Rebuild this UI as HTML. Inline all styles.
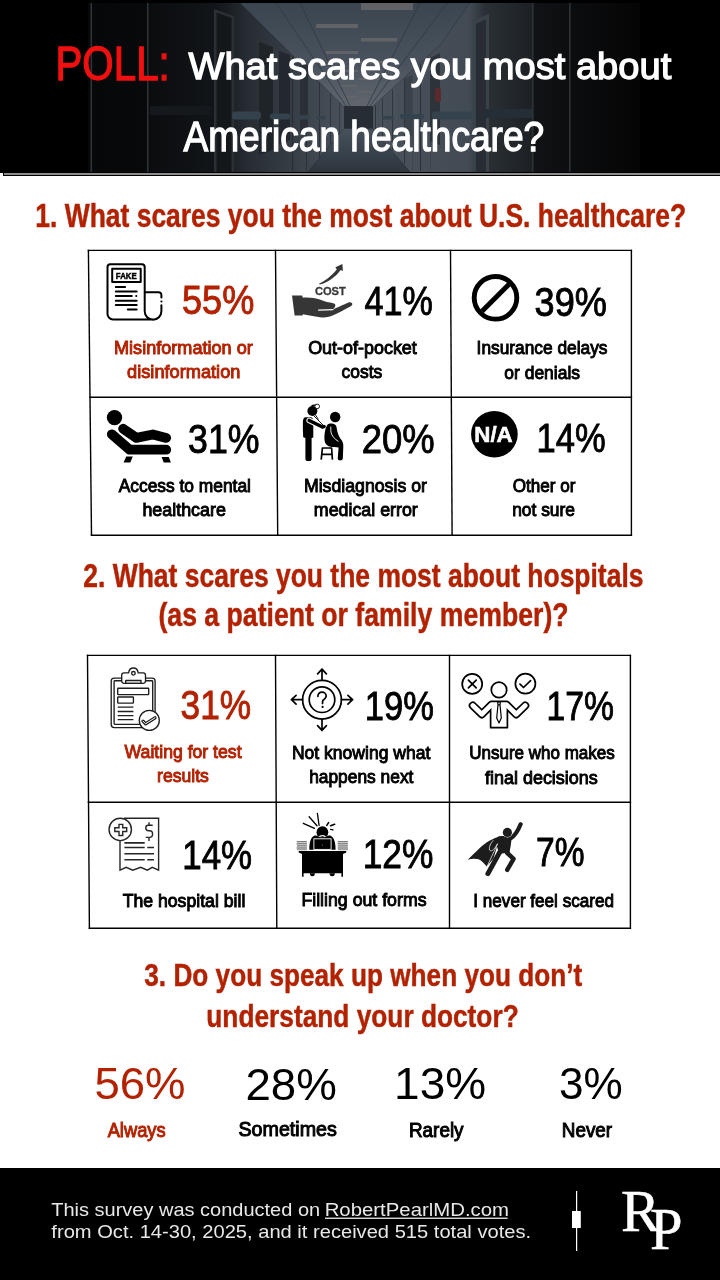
<!DOCTYPE html>
<html><head><meta charset="utf-8"><title>POLL: What scares you most about American healthcare?</title>
<style>html,body{margin:0;padding:0;background:#fff;width:720px;height:1280px;overflow:hidden}svg{display:block;will-change:transform}</style>
</head><body>
<svg width="720" height="1280" viewBox="0 0 720 1280">
<rect width="720" height="1280" fill="#fff"/>
<defs>
<linearGradient id="gLW" gradientUnits="userSpaceOnUse" x1="88" y1="0" x2="344" y2="0">
<stop offset="0" stop-color="#060708"/><stop offset="0.23" stop-color="#08090b"/><stop offset="0.25" stop-color="#0b0d0f"/><stop offset="0.5" stop-color="#121519"/><stop offset="0.62" stop-color="#262c32"/><stop offset="1" stop-color="#49525b"/>
</linearGradient>
<linearGradient id="gRW" gradientUnits="userSpaceOnUse" x1="373" y1="0" x2="533" y2="0">
<stop offset="0" stop-color="#4a535c"/><stop offset="0.6" stop-color="#424b54"/><stop offset="0.7" stop-color="#2a3035"/><stop offset="1" stop-color="#1c2024"/>
</linearGradient>
<linearGradient id="gC" gradientUnits="userSpaceOnUse" x1="0" y1="3" x2="0" y2="106">
<stop offset="0" stop-color="#3b4550"/><stop offset="0.6" stop-color="#4a535d"/><stop offset="1" stop-color="#5f666d"/>
</linearGradient>
<linearGradient id="gF" gradientUnits="userSpaceOnUse" x1="0" y1="127" x2="0" y2="172">
<stop offset="0" stop-color="#47525c"/><stop offset="0.5" stop-color="#3a444e"/><stop offset="1" stop-color="#2d353d"/>
</linearGradient>
<linearGradient id="gRD" gradientUnits="userSpaceOnUse" x1="533" y1="0" x2="640" y2="0">
<stop offset="0" stop-color="#111316"/><stop offset="0.4" stop-color="#0b0c0e"/><stop offset="1" stop-color="#050505"/>
</linearGradient>
</defs>
<rect x="0" y="0" width="720" height="173" fill="#000"/>
<g>
<polygon points="88,3 240,3 344,106.5 344,128.3 308,172 88,172" fill="url(#gLW)"/>
<polygon points="240,3 470,3 441,44 372.5,106.5 344,106.5" fill="url(#gC)"/>
<polygon points="470,3 533,3 533,172 410,172 372.5,128.3 372.5,106.5 441,44" fill="url(#gRW)"/>
<polygon points="344,128.3 372.5,128.3 410,172 308,172" fill="url(#gF)"/>
<rect x="344" y="106.5" width="28.5" height="21.8" fill="#262d34"/>
<rect x="533" y="3" width="107" height="169" fill="url(#gRD)"/>
<g fill="#67676a" opacity="0.85">
<rect x="361" y="3" width="52" height="7"/>
<rect x="316" y="24" width="42" height="4"/>
<rect x="361" y="38" width="36" height="3.5"/>
<rect x="326" y="51" width="32" height="3"/>
<rect x="360" y="61" width="26" height="2.5"/>
<rect x="334" y="70" width="24" height="2"/>
<rect x="359" y="78" width="20" height="2"/>
<rect x="340" y="85" width="18" height="1.6"/>
<rect x="358" y="91" width="15" height="1.5"/>
<rect x="344" y="96" width="13" height="1.4"/>
<rect x="357" y="100" width="12" height="1.2"/>
</g>
<g fill="#2e3338">
<rect x="90.5" y="3" width="1.6" height="169"/>
<rect x="147" y="3" width="1.6" height="169"/>
<rect x="569" y="3" width="1.6" height="169"/>
<rect x="532" y="3" width="1.6" height="169"/>
</g>
<!-- wall texture -->
<rect x="292" y="55.8" width="1" height="115.2" fill="#262c32"/>
<rect x="300" y="63.7" width="1" height="107.3" fill="#3a424a"/>
<rect x="306" y="69.7" width="1" height="101.3" fill="#2a3036"/>
<rect x="313" y="76.6" width="1" height="88.3" fill="#3e464e"/>
<rect x="319" y="82.6" width="1" height="75.0" fill="#2c3238"/>
<rect x="325" y="88.6" width="1" height="61.8" fill="#434b53"/>
<rect x="330" y="93.6" width="1" height="50.7" fill="#30363c"/>
<rect x="335" y="98.5" width="1" height="39.7" fill="#464e56"/>
<rect x="339" y="102.5" width="1" height="30.8" fill="#343a40"/>
<rect x="342" y="105.5" width="1" height="24.2" fill="#4a525a"/>
<rect x="375" y="105.2" width="1" height="25.0" fill="#2e353b"/>
<rect x="378" y="102.5" width="1" height="31.2" fill="#434b53"/>
<rect x="382" y="98.8" width="1" height="39.5" fill="#30373d"/>
<rect x="387" y="94.3" width="1" height="49.9" fill="#454d55"/>
<rect x="392" y="89.7" width="1" height="60.3" fill="#2e353b"/>
<rect x="398" y="84.2" width="1" height="72.8" fill="#444c54"/>
<rect x="404" y="78.8" width="1" height="85.2" fill="#2c3339"/>
<rect x="412" y="71.5" width="1" height="99.5" fill="#3e464e"/>
<rect x="420" y="64.2" width="1" height="106.8" fill="#2a3036"/>
<rect x="430" y="55.0" width="1" height="116.0" fill="#3a424a"/>
<path d="M300,3 L350,106 M420,3 L367,106 M276,3 L346,106 M447,3 L370,106" stroke="#2f3841" stroke-width="0.8" fill="none"/>
<!-- left doors -->
<polygon points="214,9 234,16 234,172 214,172" fill="#2a3036"/>
<polygon points="216.5,12.5 231.5,18 231.5,172 216.5,172" fill="#15181b"/>
<polygon points="259,42 273,47 273,150 259,155" fill="#1f2428"/>
<polygon points="279,51 290,55 290,140 279,144" fill="#22282d"/>
<polygon points="300,62 308,65 308,132 300,135" fill="#2a3035"/>
<!-- right doors -->
<polygon points="473,20 489,14 489,172 473,172" fill="#3a4249"/>
<polygon points="476,24 486,19 486,172 476,172" fill="#272d32"/>
<polygon points="430,58 440,53 440,145 430,141" fill="#2d3439"/>
<polygon points="405,78 412,75 412,136 405,134" fill="#3a4249"/>
<!-- handrails -->
<g fill="#34424e">
<rect x="232" y="111.5" width="29" height="8" rx="3"/>
<rect x="270" y="113.5" width="20" height="6" rx="2.5"/>
<rect x="296" y="115" width="14" height="4.5" rx="2"/>
<rect x="316" y="116" width="10" height="3.5" rx="1.5"/>
<rect x="432" y="111.5" width="40" height="8" rx="3"/>
<rect x="400" y="114" width="24" height="5" rx="2"/>
<rect x="382" y="116" width="12" height="3.5" rx="1.5"/>
</g>
<rect x="150" y="106" width="62" height="9" fill="#15191d"/>
<rect x="482" y="109" width="50" height="9" fill="#252e36"/>
<rect x="435" y="88" width="6" height="14" rx="2" fill="#5a2a2c"/>

</g>

<!-- header bottom bar -->
<rect x="3" y="172" width="717" height="4" fill="#000"/>
<rect x="4" y="173" width="716" height="2" fill="#8c8c8c"/>
<!-- grid 1 -->
<g stroke="#000" stroke-width="1.4" fill="none" stroke-linecap="square">
<line x1="88.4" y1="250.4" x2="631.4" y2="250.4"/>
<line x1="90" y1="397.3" x2="631.4" y2="397.3"/>
<line x1="91.5" y1="535.2" x2="631.4" y2="535.2"/>
<line x1="88.4" y1="250.4" x2="91.5" y2="535.2"/>
<line x1="275.5" y1="250.4" x2="277.7" y2="535.2"/>
<line x1="450.5" y1="250.4" x2="452.1" y2="535.2"/>
<line x1="631.4" y1="250.4" x2="631.4" y2="535.2"/>
</g>
<!-- grid 2 -->
<g stroke="#000" stroke-width="1.4" fill="none" stroke-linecap="square">
<line x1="87.5" y1="655.4" x2="630.4" y2="655.4"/>
<line x1="88.4" y1="802.3" x2="630.4" y2="802.3"/>
<line x1="89.4" y1="928.2" x2="630.4" y2="928.2"/>
<line x1="87.5" y1="655.4" x2="89.4" y2="928.2"/>
<line x1="275.5" y1="655.4" x2="276.8" y2="928.2"/>
<line x1="449.5" y1="655.4" x2="449.5" y2="928.2"/>
<line x1="630.4" y1="655.4" x2="630.4" y2="928.2"/>
</g>
<!-- footer -->
<rect x="0" y="1168" width="720" height="112" fill="#000"/>
<rect x="325" y="1217.6" width="182.6" height="1.3" fill="#e8e8e8"/>
<rect x="576" y="1191" width="1.2" height="60" fill="#fff"/>
<rect x="572" y="1211" width="8.8" height="17" fill="#fff"/>
<!-- icon: fake news -->
<g fill="none" stroke="#000" stroke-width="2" stroke-linecap="round" stroke-linejoin="round">
<path d="M153,319.4 H113 A5.5,5.5 0 0 1 107.5,313.9 V267 A2.8,2.8 0 0 1 110.3,264.2 H141.9 A2.8,2.8 0 0 1 144.7,267 V311.3 A8.3,8.3 0 0 0 161.4,311.3 V305.3 M161.4,297.6 V295 A2.8,2.8 0 0 0 158.6,292.2 H144.7"/>
<rect x="112.2" y="268.7" width="28.5" height="13.3"/>
<path d="M115.8,286.9 H125.1 M115.8,291.6 H136.7 M115.8,296 H131.8 M136.2,296 H136.3 M115.8,300.7 H136.7 M115.8,304.9 H136.7 M127.8,309.6 H136.7 M161.4,301.4 H161.5"/>
</g>
<text x="126.3" y="278.6" text-anchor="middle" textLength="20.9" lengthAdjust="spacingAndGlyphs" style="font-family:&quot;Liberation Sans&quot;,sans-serif;font-weight:700;font-size:8.8px" fill="#000" stroke="#000" stroke-width="0.45">FAKE</text>

<!-- icon: hospital bill -->
<g fill="none" stroke="#262626" stroke-width="1.4" stroke-linejoin="miter">
<path d="M124,818.3 H158.6 V870.2 L152.3,867.3 L147.3,870.2 L140.7,867.3 L132.75,870.2 L126.1,867.3 L120,870.2 V840.7"/>
<circle cx="120.25" cy="829.4" r="11.2"/>
<path d="M119,824.4 H122.75 V827.75 H126.7 V831.5 H122.75 V835.5 H119 V831.5 H114.8 V827.75 H119 Z"/>
<path d="M149,822.3 V824.7 M149,838 V841 M152.7,825.3 H148.2 C146.6,825.3 145.8,826.4 145.8,828 C145.8,829.8 146.8,830.7 148.6,830.7 H149.6 C151.6,830.7 152.6,831.8 152.6,833.8 C152.6,835.8 151.5,837.4 149.5,837.4 H145.7"/>
</g>
<path d="M124.4,842.9 H144.7 M124.4,847.5 H144.7 M147.3,847.5 H154 M124.4,853.75 H154 M124.4,859.8 H144.7 M147.3,859.8 H154" stroke="#262626" stroke-width="1.6" fill="none"/>

<!-- icon: filling forms desk -->
<g fill="#000">
<!-- stress lines -->
<path d="M303.3,823.3 L314.5,828.3 M309.1,816.7 L317,825.8 M317.4,813.3 L319.1,825.4" stroke="#000" stroke-width="1.3" fill="none" stroke-linecap="round"/>
<path d="M326.8,825.4 L328.6,822.6" stroke="#000" stroke-width="1.6" stroke-linecap="round"/>
<path d="M330.6,825.7 L334.6,824.3" stroke="#000" stroke-width="1.7" stroke-linecap="round"/>
<path d="M330.6,829.4 L333,829.9" stroke="#000" stroke-width="1.3" stroke-linecap="round"/>
<!-- head -->
<circle cx="322.4" cy="832.2" r="5.9"/>
<path d="M319.2,837 C320.5,835.2 324.3,835.2 325.6,837" stroke="#fff" stroke-width="1.3" fill="none"/>
<!-- body -->
<path d="M309.3,849.2 C309.3,843 310.5,837.5 314.5,835.6 C316.5,834.9 318.8,836.4 322.4,838.5 C326,836.4 328.2,834.9 330.3,835.6 C334.3,837.5 335.6,843 335.6,849.2 C335.6,850 334.8,849.8 333.8,849.8 L311,849.8 C310,849.8 309.3,850 309.3,849.2 Z"/>
<!-- laptop -->
<rect x="313.9" y="838.8" width="17.2" height="10.6" fill="#000" stroke="#fff" stroke-width="0.9"/>
<circle cx="322.4" cy="845" r="0.6" fill="#888"/>
<!-- desk -->
<path d="M298.7,850.9 H346.2 V852.6 L343,854 V876.7 H341.4 V873.3 H303.6 V876.7 H302 V854 L298.7,852.6 Z"/>
<path d="M309.9,873.3 A2.5,3 0 0 0 314.9,873.3 Z M329.5,873.3 A2.7,3 0 0 0 334.9,873.3 Z"/>
</g>
<g fill="#7a7a7a">
<rect x="296.8" y="841" width="10" height="1.4"/>
<rect x="296.6" y="843.1" width="10.3" height="1.4"/>
<rect x="296.9" y="845.2" width="10" height="1.4"/>
<rect x="296.6" y="847.3" width="10.3" height="1.4"/>
<rect x="297" y="849.3" width="10" height="0.9"/>
<rect x="337.8" y="841" width="10" height="1.4"/>
<rect x="337.6" y="843.1" width="10.3" height="1.4"/>
<rect x="337.9" y="845.2" width="10" height="1.4"/>
<rect x="337.6" y="847.3" width="10.3" height="1.4"/>
<rect x="338" y="849.3" width="10" height="0.9"/>
</g>

<!-- icon: superhero -->
<g fill="#1c1c1c" stroke-linecap="round" stroke-linejoin="round">
<path d="M499.8,836.6 C494,838 486,842 479.5,848.3 C474.5,853 470.5,857 467.7,859.8 C471,858.6 475,858.2 478.5,859.2 C482,860.5 484.5,864 486.7,866.4 L493.5,858.6 Z"/>
<path d="M498.5,836.4 C502,835.6 507,835.8 511,837.4 C512,840 510.6,846 509.6,852.6 L499.8,853.8 C497.8,850 496.2,845 496.3,840.5 C496.5,838 497,836.8 498.5,836.4 Z"/>
<path d="M499.6,852.4 L487.9,873.6" stroke="#1c1c1c" stroke-width="5" fill="none"/>
<path d="M507.2,853 L513.6,858.8 L507.2,869.9" stroke="#1c1c1c" stroke-width="4.4" fill="none"/>
<path d="M510.4,838.6 C514.4,836 518.2,830.5 520.6,824.3" stroke="#1c1c1c" stroke-width="4.2" fill="none"/>
<circle cx="507.4" cy="832.4" r="5.1" fill="#fff"/>
<circle cx="507.4" cy="832.4" r="4.6"/>
</g>
<path d="M493.4,840.2 C490.8,843 488.6,847.2 489.6,850.2 C491,852 494,849.6 495.6,846.8 L497.7,843.6" stroke="#fff" stroke-width="0.7" fill="none"/>
<path d="M497.6,843.8 L487.2,866.2" stroke="#fff" stroke-width="0.7" fill="none"/>

<!-- icon: cost hand -->
<g fill="#363636">
<path d="M292,295.4 L302.3,295.4 L302.6,297.6 C308,297.6 313,297.8 317,298.8 C321,299.8 324,301.6 328,302.2 C331,302.5 334.2,302.8 335.2,304.6 C335.8,306 334.8,307.6 333.5,308.6 L333.5,309.2 C337,308 344,304.5 348.5,302.6 C350.5,301.8 352.2,302.6 352.3,304 C352.4,305.2 351.4,305.9 350.3,306.5 C344,309.8 338,313.4 332,315.8 C328,317.4 324,317.7 320,317.2 C314,316.3 308,315.2 302.8,314.2 L302.6,315.4 L294.6,315.4 Z"/>
<path d="M319.2,283.6 C325,280.6 331,276.5 336.8,269.4 L335.4,267.2 L342.4,263.9 L342.9,271.1 L340.6,269.9 C335,277.6 328,282 319.6,284.6 Z"/>
</g>
<path d="M318.6,310.1 L333,309.6" stroke="#fff" stroke-width="1.3" fill="none" stroke-linecap="round"/>
<text x="330.35" y="295" text-anchor="middle" textLength="30.9" lengthAdjust="spacingAndGlyphs" style="font-family:&quot;Liberation Sans&quot;,sans-serif;font-weight:700;font-size:11px" fill="#3a3a3a" stroke="#3a3a3a" stroke-width="0.3">COST</text>

<!-- icon: prohibited -->
<g fill="none" stroke="#000" stroke-width="4.9">
<circle cx="495.5" cy="297.8" r="21.3"/>
<line x1="482" y1="311.3" x2="509" y2="284.3"/>
</g>

<!-- icon: therapy couch -->
<g fill="none" stroke-linecap="round" stroke-linejoin="round">
<path d="M111.8,434.3 L129.7,449.7 L166.2,449.7" stroke="#000" stroke-width="9.8"/>
<path d="M123.1,428.7 L136.4,437.9 L152.9,434.5 L166.2,437.9" stroke="#fff" stroke-width="12.6"/>
<path d="M123.1,428.7 L136.4,437.9 L152.9,434.5 L166.2,437.9" stroke="#000" stroke-width="9.8"/>
</g>
<circle cx="114.5" cy="417.6" r="7.7" fill="#000"/>
<polygon points="126.2,456.4 132.8,456.4 130.3,462.4 123.6,462.4" fill="#000"/>
<polygon points="161.6,456.9 168.8,456.9 170.9,462.4 163.7,462.4" fill="#000"/>

<!-- icon: doctor & patient -->
<g fill="#000">
<!-- doctor head -->
<circle cx="312.4" cy="411" r="5"/>
<path d="M311.5,405.6 L316,404.8" stroke="#000" stroke-width="1.2"/>
<circle cx="317.2" cy="406.4" r="2.3" fill="#fff" stroke="#000" stroke-width="0.9"/>
<!-- doctor body -->
<path d="M305.8,417.2 L310.4,417.2 C312.6,417.2 313.3,419 313.3,421 L313.3,437.5 L311.6,438 L311.6,459 C311.6,461.2 309.9,461 308.4,461 C306.6,461 305.4,460.8 305.4,459 L305.4,438 L303.2,437.2 C302.9,432 302.8,427 302.9,422 C303,419 303.8,417.2 305.8,417.2 Z"/>
<!-- doctor arm -->
<path d="M309.2,420.5 L322.5,427" stroke="#fff" stroke-width="5.6" stroke-linecap="round" fill="none"/>
<path d="M309.2,420.5 L322.5,427" stroke="#000" stroke-width="3.6" stroke-linecap="round" fill="none"/>
<circle cx="324" cy="426.6" r="1.8"/>
<!-- stethoscope -->
<path d="M313.5,415.5 L323.6,425.6 M315.5,415 L318.5,419.5" stroke="#000" stroke-width="0.9" fill="none"/>
<!-- patient head -->
<circle cx="335.2" cy="417" r="5.2"/>
<!-- patient body -->
<path d="M330,423.6 C333.5,423.2 336.4,424.2 336.6,427.5 C337,431 338.2,435.2 340.3,438.5 C342.5,441 343.5,443.2 343.3,446.5 L342.8,458.5 C342.6,460.4 340.6,460.6 339.3,460.3 C337.8,460 337.6,458.8 337.8,457.5 L338.6,447.4 C336,447.2 332,447.2 329.5,446.4 C326,445.5 324.4,442.5 324.4,438 C324.4,433 325.5,427.5 327,425.4 C327.8,424.3 328.8,423.7 330,423.6 Z"/>
<path d="M330.8,427 L330.9,432 C331.8,436 334.4,439 338.2,441.2" stroke="#fff" stroke-width="0.9" fill="none" stroke-linecap="round"/>
<!-- stool -->
<path d="M321.8,448 L332.2,448 M322.4,448 L321.2,459.6 M331.6,448 L332.4,459.6 M321.9,454.3 L331.9,454.3" stroke="#000" stroke-width="1.7" fill="none"/>
</g>

<!-- icon: N/A -->
<circle cx="494.4" cy="434.2" r="23.3" fill="#000"/>
<text x="474.3" y="441.8" textLength="38.4" lengthAdjust="spacingAndGlyphs" style="font-family:&quot;Liberation Sans&quot;,sans-serif;font-weight:700;font-size:22.2px" fill="#fff" stroke="#fff" stroke-width="0.6">N/A</text>

<!-- icon: clipboard -->
<g fill="none" stroke="#1e1e1e" stroke-width="1.35" stroke-linejoin="round">
<rect x="111.2" y="678.1" width="43.9" height="49.5" rx="3"/>
<rect x="114.1" y="680.7" width="38.6" height="43.7" rx="0.8"/>
<path d="M124,672.9 H128.6 C129,670 131,668 133.4,668 C135.8,668 137.8,670 138.2,672.9 H143.2 A2.3,2.3 0 0 1 145.5,675.2 V681 A2.3,2.3 0 0 1 143.2,683.3 H124 A2.3,2.3 0 0 1 121.7,681 V675.2 A2.3,2.3 0 0 1 124,672.9 Z" fill="#fff"/>
<circle cx="133.4" cy="673.3" r="1.8"/>
<rect x="125.7" y="680.5" width="15.3" height="2.8"/>
<rect x="117.7" y="688.2" width="31" height="6.4" rx="0.6"/>
<rect x="117.7" y="697" width="15.7" height="6.1" rx="0.6"/>
<path d="M117.7,707.1 H133.4 M117.7,711.5 H133.4 M117.7,715.6 H133.4 M117.7,719.6 H133.4"/>
<circle cx="149.3" cy="720.4" r="10" fill="#fff"/>
</g>
<path d="M143,721.2 L145.6,723.8 L155,717.8" fill="none" stroke="#1e1e1e" stroke-width="3.3" stroke-linecap="round" stroke-linejoin="round"/>
<path d="M143,721.2 L145.6,723.8 L155,717.8" fill="none" stroke="#fff" stroke-width="1" stroke-linecap="round" stroke-linejoin="round"/>

<!-- icon: unknown direction -->
<g fill="none" stroke="#000" stroke-width="1.7" stroke-linecap="round" stroke-linejoin="round">
<circle cx="322" cy="699.7" r="19.4"/>
<circle cx="322" cy="699.7" r="12.8"/>
<path d="M322,680.3 V669.2 M317.6,673.9 L322,669.2 L326.4,673.9"/>
<path d="M322,719.1 V730.4 M317.6,725.6 L322,730.4 L326.4,725.6"/>
<path d="M302.6,699.7 H291.4 M296.1,695.3 L291.4,699.7 L296.1,704.1"/>
<path d="M341.4,699.7 H352.6 M347.9,695.3 L352.6,699.7 L347.9,704.1"/>
<path d="M317.9,696.4 C317.7,693.8 319.6,692.2 322,692.2 C324.5,692.2 326.2,694 326.2,696.1 C326.2,698.5 323.8,699.2 322.8,700.6 C322.5,701.2 322.5,702.3 322.5,703.4"/>
</g>
<circle cx="322.6" cy="706.9" r="1.1" fill="#000"/>

<!-- icon: unsure decisions -->
<g fill="none" stroke="#000" stroke-width="1.7" stroke-linecap="round" stroke-linejoin="round">
<circle cx="472.2" cy="683.9" r="10"/>
<path d="M468.4,680.1 L476.2,687.9 M476.2,680.1 L468.4,687.9"/>
<circle cx="525.4" cy="683.7" r="10"/>
<path d="M520,684.2 L523.5,687.5 L530.6,680.6"/>
<circle cx="499" cy="689.9" r="7.7"/>
</g>
<path d="M472.8,705.6 L481.8,714.3 L491.5,704.6 L506.5,704.6 L516.2,714.3 L525.2,705.6" fill="none" stroke="#000" stroke-width="8.2" stroke-linecap="round" stroke-linejoin="round"/>
<path d="M472.8,705.6 L481.8,714.3 L491.5,704.6 L506.5,704.6 L516.2,714.3 L525.2,705.6" fill="none" stroke="#fff" stroke-width="4.8" stroke-linecap="round" stroke-linejoin="round"/>
<rect x="491.4" y="703.2" width="15.2" height="23.8" fill="#fff"/>
<path d="M490.6,710.5 V727.6 H507.4 V710.5" fill="none" stroke="#000" stroke-width="1.7" stroke-linejoin="round"/>
<path d="M497.6,701.8 L500.4,701.8 L500,704.8 L501.3,718 L499,723 L496.7,718 L498,704.8 Z M498,704.8 H500" fill="none" stroke="#000" stroke-width="1.2" stroke-linejoin="round"/>

<text x="55.43" y="79.50" textLength="114.39" lengthAdjust="spacingAndGlyphs" style="font-family:&quot;Liberation Sans&quot;, Arial, sans-serif;font-weight:400;font-size:47.82px;" fill="#f01010" stroke="#f01010" stroke-width="1.3">POLL:</text>
<text x="188.49" y="79.20" textLength="482.74" lengthAdjust="spacingAndGlyphs" style="font-family:&quot;Liberation Sans&quot;, Arial, sans-serif;font-weight:400;font-size:37.43px;" fill="#ffffff" stroke="#ffffff" stroke-width="1.3">What scares you most about</text>
<text x="183.41" y="150.50" textLength="360.80" lengthAdjust="spacingAndGlyphs" style="font-family:&quot;Liberation Sans&quot;, Arial, sans-serif;font-weight:400;font-size:42.24px;" fill="#ffffff" stroke="#ffffff" stroke-width="1.3">American healthcare?</text>
<text x="35.37" y="226.70" textLength="650.83" lengthAdjust="spacingAndGlyphs" style="font-family:&quot;Liberation Sans&quot;, Arial, sans-serif;font-weight:700;font-size:32.76px;" fill="#b32200" stroke="#b32200" stroke-width="0.45">1. What scares you the most about U.S. healthcare?</text>
<text x="83.32" y="586.60" textLength="560.16" lengthAdjust="spacingAndGlyphs" style="font-family:&quot;Liberation Sans&quot;, Arial, sans-serif;font-weight:700;font-size:32.87px;" fill="#b32200" stroke="#b32200" stroke-width="0.45">2. What scares you the most about hospitals</text>
<text x="158.46" y="626.30" textLength="410.08" lengthAdjust="spacingAndGlyphs" style="font-family:&quot;Liberation Sans&quot;, Arial, sans-serif;font-weight:700;font-size:32.87px;" fill="#b32200" stroke="#b32200" stroke-width="0.45">(as a patient or family member)?</text>
<text x="144.29" y="986.10" textLength="437.95" lengthAdjust="spacingAndGlyphs" style="font-family:&quot;Liberation Sans&quot;, Arial, sans-serif;font-weight:700;font-size:31.89px;" fill="#b32200" stroke="#b32200" stroke-width="0.45">3. Do you speak up when you don’t</text>
<text x="206.32" y="1026.70" textLength="312.37" lengthAdjust="spacingAndGlyphs" style="font-family:&quot;Liberation Sans&quot;, Arial, sans-serif;font-weight:700;font-size:31.89px;" fill="#b32200" stroke="#b32200" stroke-width="0.45">understand your doctor?</text>
<text x="182.02" y="313.90" textLength="72.23" lengthAdjust="spacingAndGlyphs" style="font-family:&quot;Liberation Sans&quot;, Arial, sans-serif;font-weight:400;font-size:39.91px;" fill="#b32200" stroke="#b32200" stroke-width="0.9">55%</text>
<text x="364.56" y="315.00" textLength="68.27" lengthAdjust="spacingAndGlyphs" style="font-family:&quot;Liberation Sans&quot;, Arial, sans-serif;font-weight:400;font-size:39.91px;" fill="#000" stroke="#000" stroke-width="0.9">41%</text>
<text x="534.58" y="315.70" textLength="72.27" lengthAdjust="spacingAndGlyphs" style="font-family:&quot;Liberation Sans&quot;, Arial, sans-serif;font-weight:400;font-size:39.91px;" fill="#000" stroke="#000" stroke-width="0.9">39%</text>
<text x="188.10" y="452.50" textLength="71.42" lengthAdjust="spacingAndGlyphs" style="font-family:&quot;Liberation Sans&quot;, Arial, sans-serif;font-weight:400;font-size:39.91px;" fill="#000" stroke="#000" stroke-width="0.9">31%</text>
<text x="361.63" y="452.50" textLength="72.89" lengthAdjust="spacingAndGlyphs" style="font-family:&quot;Liberation Sans&quot;, Arial, sans-serif;font-weight:400;font-size:39.91px;" fill="#000" stroke="#000" stroke-width="0.9">20%</text>
<text x="536.51" y="451.70" textLength="69.08" lengthAdjust="spacingAndGlyphs" style="font-family:&quot;Liberation Sans&quot;, Arial, sans-serif;font-weight:400;font-size:39.91px;" fill="#000" stroke="#000" stroke-width="0.9">14%</text>
<text x="114.03" y="353.90" textLength="138.78" lengthAdjust="spacingAndGlyphs" style="font-family:&quot;Liberation Sans&quot;, Arial, sans-serif;font-weight:400;font-size:18.69px;" fill="#b32200" stroke="#b32200" stroke-width="0.95">Misinformation or</text>
<text x="127.10" y="377.80" textLength="113.33" lengthAdjust="spacingAndGlyphs" style="font-family:&quot;Liberation Sans&quot;, Arial, sans-serif;font-weight:400;font-size:18.69px;" fill="#b32200" stroke="#b32200" stroke-width="0.95">disinformation</text>
<text x="308.17" y="354.30" textLength="108.68" lengthAdjust="spacingAndGlyphs" style="font-family:&quot;Liberation Sans&quot;, Arial, sans-serif;font-weight:400;font-size:18.69px;" fill="#000" stroke="#000" stroke-width="0.95">Out-of-pocket</text>
<text x="341.57" y="377.50" textLength="40.65" lengthAdjust="spacingAndGlyphs" style="font-family:&quot;Liberation Sans&quot;, Arial, sans-serif;font-weight:400;font-size:18.69px;" fill="#000" stroke="#000" stroke-width="0.95">costs</text>
<text x="476.59" y="354.20" textLength="130.95" lengthAdjust="spacingAndGlyphs" style="font-family:&quot;Liberation Sans&quot;, Arial, sans-serif;font-weight:400;font-size:18.69px;" fill="#000" stroke="#000" stroke-width="0.95">Insurance delays</text>
<text x="504.36" y="378.60" textLength="75.64" lengthAdjust="spacingAndGlyphs" style="font-family:&quot;Liberation Sans&quot;, Arial, sans-serif;font-weight:400;font-size:18.69px;" fill="#000" stroke="#000" stroke-width="0.95">or denials</text>
<text x="118.73" y="492.00" textLength="132.25" lengthAdjust="spacingAndGlyphs" style="font-family:&quot;Liberation Sans&quot;, Arial, sans-serif;font-weight:400;font-size:18.69px;" fill="#000" stroke="#000" stroke-width="0.95">Access to mental</text>
<text x="142.42" y="516.40" textLength="83.42" lengthAdjust="spacingAndGlyphs" style="font-family:&quot;Liberation Sans&quot;, Arial, sans-serif;font-weight:400;font-size:18.69px;" fill="#000" stroke="#000" stroke-width="0.95">healthcare</text>
<text x="303.90" y="491.80" textLength="123.01" lengthAdjust="spacingAndGlyphs" style="font-family:&quot;Liberation Sans&quot;, Arial, sans-serif;font-weight:400;font-size:18.69px;" fill="#000" stroke="#000" stroke-width="0.95">Misdiagnosis or</text>
<text x="313.87" y="515.80" textLength="103.92" lengthAdjust="spacingAndGlyphs" style="font-family:&quot;Liberation Sans&quot;, Arial, sans-serif;font-weight:400;font-size:18.69px;" fill="#000" stroke="#000" stroke-width="0.95">medical error</text>
<text x="512.71" y="491.50" textLength="62.63" lengthAdjust="spacingAndGlyphs" style="font-family:&quot;Liberation Sans&quot;, Arial, sans-serif;font-weight:400;font-size:18.69px;" fill="#000" stroke="#000" stroke-width="0.95">Other or</text>
<text x="512.15" y="516.40" textLength="62.83" lengthAdjust="spacingAndGlyphs" style="font-family:&quot;Liberation Sans&quot;, Arial, sans-serif;font-weight:400;font-size:18.69px;" fill="#000" stroke="#000" stroke-width="0.95">not sure</text>
<text x="180.54" y="718.90" textLength="70.52" lengthAdjust="spacingAndGlyphs" style="font-family:&quot;Liberation Sans&quot;, Arial, sans-serif;font-weight:400;font-size:39.91px;" fill="#b32200" stroke="#b32200" stroke-width="0.9">31%</text>
<text x="364.75" y="719.50" textLength="69.11" lengthAdjust="spacingAndGlyphs" style="font-family:&quot;Liberation Sans&quot;, Arial, sans-serif;font-weight:400;font-size:39.91px;" fill="#000" stroke="#000" stroke-width="0.9">19%</text>
<text x="546.49" y="719.90" textLength="67.46" lengthAdjust="spacingAndGlyphs" style="font-family:&quot;Liberation Sans&quot;, Arial, sans-serif;font-weight:400;font-size:39.91px;" fill="#000" stroke="#000" stroke-width="0.9">17%</text>
<text x="182.26" y="868.60" textLength="69.84" lengthAdjust="spacingAndGlyphs" style="font-family:&quot;Liberation Sans&quot;, Arial, sans-serif;font-weight:400;font-size:39.91px;" fill="#000" stroke="#000" stroke-width="0.9">14%</text>
<text x="362.71" y="868.00" textLength="70.64" lengthAdjust="spacingAndGlyphs" style="font-family:&quot;Liberation Sans&quot;, Arial, sans-serif;font-weight:400;font-size:39.91px;" fill="#000" stroke="#000" stroke-width="0.9">12%</text>
<text x="536.11" y="865.70" textLength="48.43" lengthAdjust="spacingAndGlyphs" style="font-family:&quot;Liberation Sans&quot;, Arial, sans-serif;font-weight:400;font-size:39.91px;" fill="#000" stroke="#000" stroke-width="0.9">7%</text>
<text x="124.61" y="758.30" textLength="116.93" lengthAdjust="spacingAndGlyphs" style="font-family:&quot;Liberation Sans&quot;, Arial, sans-serif;font-weight:400;font-size:18.69px;" fill="#b32200" stroke="#b32200" stroke-width="0.95">Waiting for test</text>
<text x="157.11" y="782.00" textLength="51.79" lengthAdjust="spacingAndGlyphs" style="font-family:&quot;Liberation Sans&quot;, Arial, sans-serif;font-weight:400;font-size:18.69px;" fill="#b32200" stroke="#b32200" stroke-width="0.95">results</text>
<text x="291.91" y="758.80" textLength="138.41" lengthAdjust="spacingAndGlyphs" style="font-family:&quot;Liberation Sans&quot;, Arial, sans-serif;font-weight:400;font-size:18.69px;" fill="#000" stroke="#000" stroke-width="0.95">Not knowing what</text>
<text x="309.13" y="782.50" textLength="104.28" lengthAdjust="spacingAndGlyphs" style="font-family:&quot;Liberation Sans&quot;, Arial, sans-serif;font-weight:400;font-size:18.69px;" fill="#000" stroke="#000" stroke-width="0.95">happens next</text>
<text x="469.22" y="759.20" textLength="145.53" lengthAdjust="spacingAndGlyphs" style="font-family:&quot;Liberation Sans&quot;, Arial, sans-serif;font-weight:400;font-size:18.69px;" fill="#000" stroke="#000" stroke-width="0.95">Unsure who makes</text>
<text x="484.96" y="783.60" textLength="112.86" lengthAdjust="spacingAndGlyphs" style="font-family:&quot;Liberation Sans&quot;, Arial, sans-serif;font-weight:400;font-size:18.69px;" fill="#000" stroke="#000" stroke-width="0.95">final decisions</text>
<text x="122.67" y="906.70" textLength="122.67" lengthAdjust="spacingAndGlyphs" style="font-family:&quot;Liberation Sans&quot;, Arial, sans-serif;font-weight:400;font-size:18.69px;" fill="#000" stroke="#000" stroke-width="0.95">The hospital bill</text>
<text x="301.41" y="906.30" textLength="125.11" lengthAdjust="spacingAndGlyphs" style="font-family:&quot;Liberation Sans&quot;, Arial, sans-serif;font-weight:400;font-size:18.69px;" fill="#000" stroke="#000" stroke-width="0.95">Filling out forms</text>
<text x="473.35" y="906.80" textLength="140.60" lengthAdjust="spacingAndGlyphs" style="font-family:&quot;Liberation Sans&quot;, Arial, sans-serif;font-weight:400;font-size:18.69px;" fill="#000" stroke="#000" stroke-width="0.95">I never feel scared</text>
<text x="94.45" y="1099.40" textLength="91.04" lengthAdjust="spacingAndGlyphs" style="font-family:&quot;Liberation Sans&quot;, Arial, sans-serif;font-weight:400;font-size:45.14px;" fill="#b32200">56%</text>
<text x="245.45" y="1099.90" textLength="91.47" lengthAdjust="spacingAndGlyphs" style="font-family:&quot;Liberation Sans&quot;, Arial, sans-serif;font-weight:400;font-size:45.14px;" fill="#000">28%</text>
<text x="394.07" y="1099.40" textLength="92.02" lengthAdjust="spacingAndGlyphs" style="font-family:&quot;Liberation Sans&quot;, Arial, sans-serif;font-weight:400;font-size:45.14px;" fill="#000">13%</text>
<text x="558.88" y="1099.40" textLength="63.76" lengthAdjust="spacingAndGlyphs" style="font-family:&quot;Liberation Sans&quot;, Arial, sans-serif;font-weight:400;font-size:45.14px;" fill="#000">3%</text>
<text x="107.63" y="1136.60" textLength="58.03" lengthAdjust="spacingAndGlyphs" style="font-family:&quot;Liberation Sans&quot;, Arial, sans-serif;font-weight:400;font-size:20.20px;" fill="#b32200" stroke="#b32200" stroke-width="1.0">Always</text>
<text x="238.45" y="1136.00" textLength="98.40" lengthAdjust="spacingAndGlyphs" style="font-family:&quot;Liberation Sans&quot;, Arial, sans-serif;font-weight:400;font-size:20.20px;" fill="#000" stroke="#000" stroke-width="1.0">Sometimes</text>
<text x="408.99" y="1136.60" textLength="54.56" lengthAdjust="spacingAndGlyphs" style="font-family:&quot;Liberation Sans&quot;, Arial, sans-serif;font-weight:400;font-size:20.20px;" fill="#000" stroke="#000" stroke-width="1.0">Rarely</text>
<text x="561.79" y="1136.60" textLength="50.30" lengthAdjust="spacingAndGlyphs" style="font-family:&quot;Liberation Sans&quot;, Arial, sans-serif;font-weight:400;font-size:20.20px;" fill="#000" stroke="#000" stroke-width="1.0">Never</text>
<text x="51.22" y="1215.60" textLength="268.95" lengthAdjust="spacingAndGlyphs" style="font-family:&quot;Liberation Sans&quot;, Arial, sans-serif;font-weight:400;font-size:19.28px;" fill="#e8e8e8">This survey was conducted on</text>
<text x="324.66" y="1215.60" textLength="184.38" lengthAdjust="spacingAndGlyphs" style="font-family:&quot;Liberation Sans&quot;, Arial, sans-serif;font-weight:400;font-size:19.28px;" fill="#e8e8e8">RobertPearlMD.com</text>
<text x="51.35" y="1237.80" textLength="479.74" lengthAdjust="spacingAndGlyphs" style="font-family:&quot;Liberation Sans&quot;, Arial, sans-serif;font-weight:400;font-size:19.28px;" fill="#e8e8e8">from Oct. 14-30, 2025, and it received 515 total votes.</text>
<text x="621.00" y="1230.60" style="font-family:&quot;Liberation Serif&quot;, serif;font-weight:400;font-size:58.48px;" fill="#ffffff" stroke="#ffffff" stroke-width="0.5">R</text>
<text x="650.00" y="1248.60" style="font-family:&quot;Liberation Serif&quot;, serif;font-weight:400;font-size:58.48px;" fill="#ffffff" stroke="#ffffff" stroke-width="0.5">P</text>
</svg>
</body></html>
